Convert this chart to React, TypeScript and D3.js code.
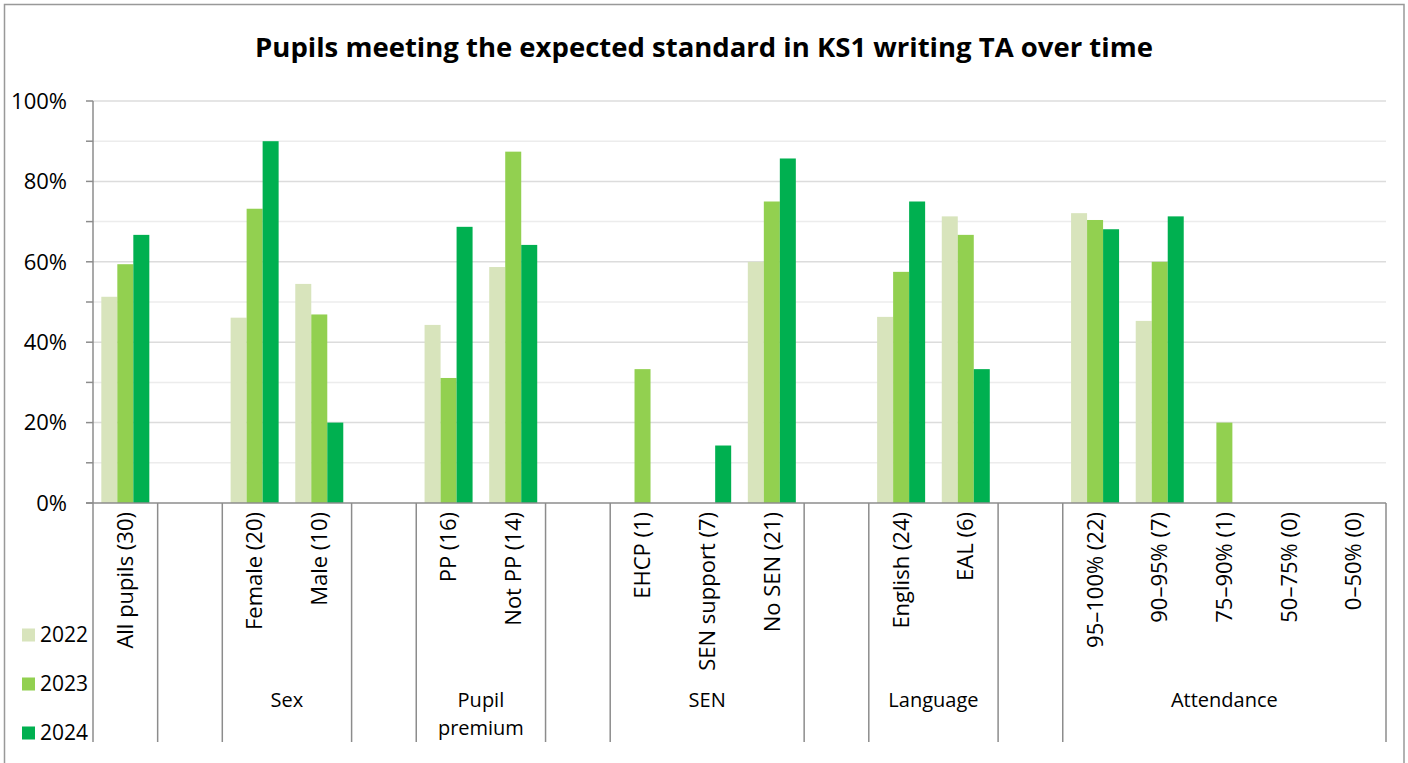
import React from "react";
import * as d3 from "d3";

const TITLE = "Pupils meeting the expected standard in KS1 writing TA over time";

const categories = [
  "All pupils (30)", "", "Female (20)", "Male (10)", "", "PP (16)", "Not PP (14)", "",
  "EHCP (1)", "SEN support (7)", "No SEN (21)", "", "English (24)", "EAL (6)", "",
  "95–100% (22)", "90–95% (7)", "75–90% (1)", "50–75% (0)", "0–50% (0)",
];

const groupLabels = ["", "", "Sex", "", "Pupil\npremium", "", "SEN", "", "Language", "", "Attendance"];
const groupSizes = [1, 1, 2, 1, 2, 1, 3, 1, 2, 1, 5];

const years = ["2022", "2023", "2024"];
const values2022 = [51.3, null, 46.1, 54.5, null, 44.3, 58.7, null, null, null, 60.0, null, 46.3, 71.3, null, 72.1, 45.3, null, null, null];
const values2023 = [59.4, null, 73.2, 46.9, null, 31.1, 87.4, null, 33.3, null, 75.0, null, 57.5, 66.7, null, 70.4, 60.0, 20.0, null, null];
const values2024 = [66.7, null, 90.0, 20.0, null, 68.7, 64.2, null, null, 14.3, 85.7, null, 75.0, 33.3, null, 68.1, 71.3, null, null, null];
const series = [values2022, values2023, values2024];
const colors = ["#D8E4BC", "#92D050", "#00B050"];

const yTicks = [0, 20, 40, 60, 80, 100];
const yMinor = [10, 30, 50, 70, 90];

const FONT = "'Open Sans', 'Noto Sans', sans-serif";

export default function App() {
  const W = 1408, H = 763;
  const left = 93, right = 1386, top = 101, bottom = 503;
  const labelBottom = 742;

  const y = d3.scaleLinear().domain([0, 100]).range([bottom, top]);
  const x = d3.scaleBand<number>().domain(d3.range(categories.length)).range([left, right]).padding(0);
  const inner = d3.scaleBand<string>().domain(years).range([0, x.bandwidth()]).paddingInner(0).paddingOuter(0.52);

  const bounds: number[] = [0];
  groupSizes.forEach((s) => bounds.push(bounds[bounds.length - 1] + s));
  const boundX = (i: number) => (i >= categories.length ? right : (x(i) as number));

  const axisColor = "#8c8c8c";

  return (
    <svg width={W} height={H} style={{ position: "absolute", left: 0, top: 0, background: "#fff" }} fontFamily={FONT}>
      <rect x={4.5} y={4.5} width={1399.5} height={770} fill="#fff" stroke="#999" strokeWidth={1.5} />
      <text x={704} y={57} textAnchor="middle" fontSize={27.5} fontWeight="bold" fill="#000">{TITLE}</text>

      {yMinor.map((t) => (
        <line key={"m" + t} x1={left} x2={right} y1={y(t)} y2={y(t)} stroke="#ececec" strokeWidth={1.5} />
      ))}
      {yTicks.filter((t) => t > 0).map((t) => (
        <line key={"g" + t} x1={left} x2={right} y1={y(t)} y2={y(t)} stroke="#dcdcdc" strokeWidth={1.5} />
      ))}

      {series.map((vals, si) =>
        vals.map((v, ci) =>
          v == null ? null : (
            <rect
              key={si + "-" + ci}
              x={(x(ci) as number) + (inner(years[si]) as number)}
              y={y(v)}
              width={inner.bandwidth()}
              height={y(0) - y(v)}
              fill={colors[si]}
            />
          )
        )
      )}

      <line x1={left} x2={left} y1={top} y2={bottom} stroke={axisColor} strokeWidth={1.5} />
      {[...yTicks, ...yMinor].map((t) => (
        <line key={"t" + t} x1={left - 7} x2={left} y1={y(t)} y2={y(t)} stroke={axisColor} strokeWidth={1.5} />
      ))}
      {yTicks.map((t) => (
        <text key={"l" + t} x={67} y={y(t)} dy="0.35em" textAnchor="end" fontSize={22} fill="#000">{t + "%"}</text>
      ))}

      <line x1={left - 7} x2={right} y1={bottom} y2={bottom} stroke={axisColor} strokeWidth={1.5} />
      {bounds.map((b) => (
        <line key={"b" + b} x1={boundX(b)} x2={boundX(b)} y1={bottom} y2={labelBottom} stroke={axisColor} strokeWidth={1.5} />
      ))}
      {categories.map((c, i) =>
        c ? (
          <text
            key={"c" + i}
            transform={`translate(${(x(i) as number) + x.bandwidth() / 2},512) rotate(-90)`}
            textAnchor="end"
            dy="0.35em"
            fontSize={22}
            fill="#000"
          >
            {c}
          </text>
        ) : null
      )}
      {groupLabels.map((g, gi) => {
        if (!g) return null;
        const cx = (boundX(bounds[gi]) + boundX(bounds[gi + 1])) / 2;
        return g.split("\n").map((line, li) => (
          <text key={"g" + gi + "-" + li} x={cx} y={700 + li * 28} dy="0.35em" textAnchor="middle" fontSize={20} fill="#000">
            {line}
          </text>
        ));
      })}

      {years.map((yr, i) => (
        <g key={yr} transform={`translate(22,${635 + i * 49})`}>
          <rect x={0} y={-6.5} width={13} height={13} fill={colors[i]} />
          <text x={18} y={0} dy="0.35em" fontSize={21} fill="#000">{yr}</text>
        </g>
      ))}
    </svg>
  );
}
